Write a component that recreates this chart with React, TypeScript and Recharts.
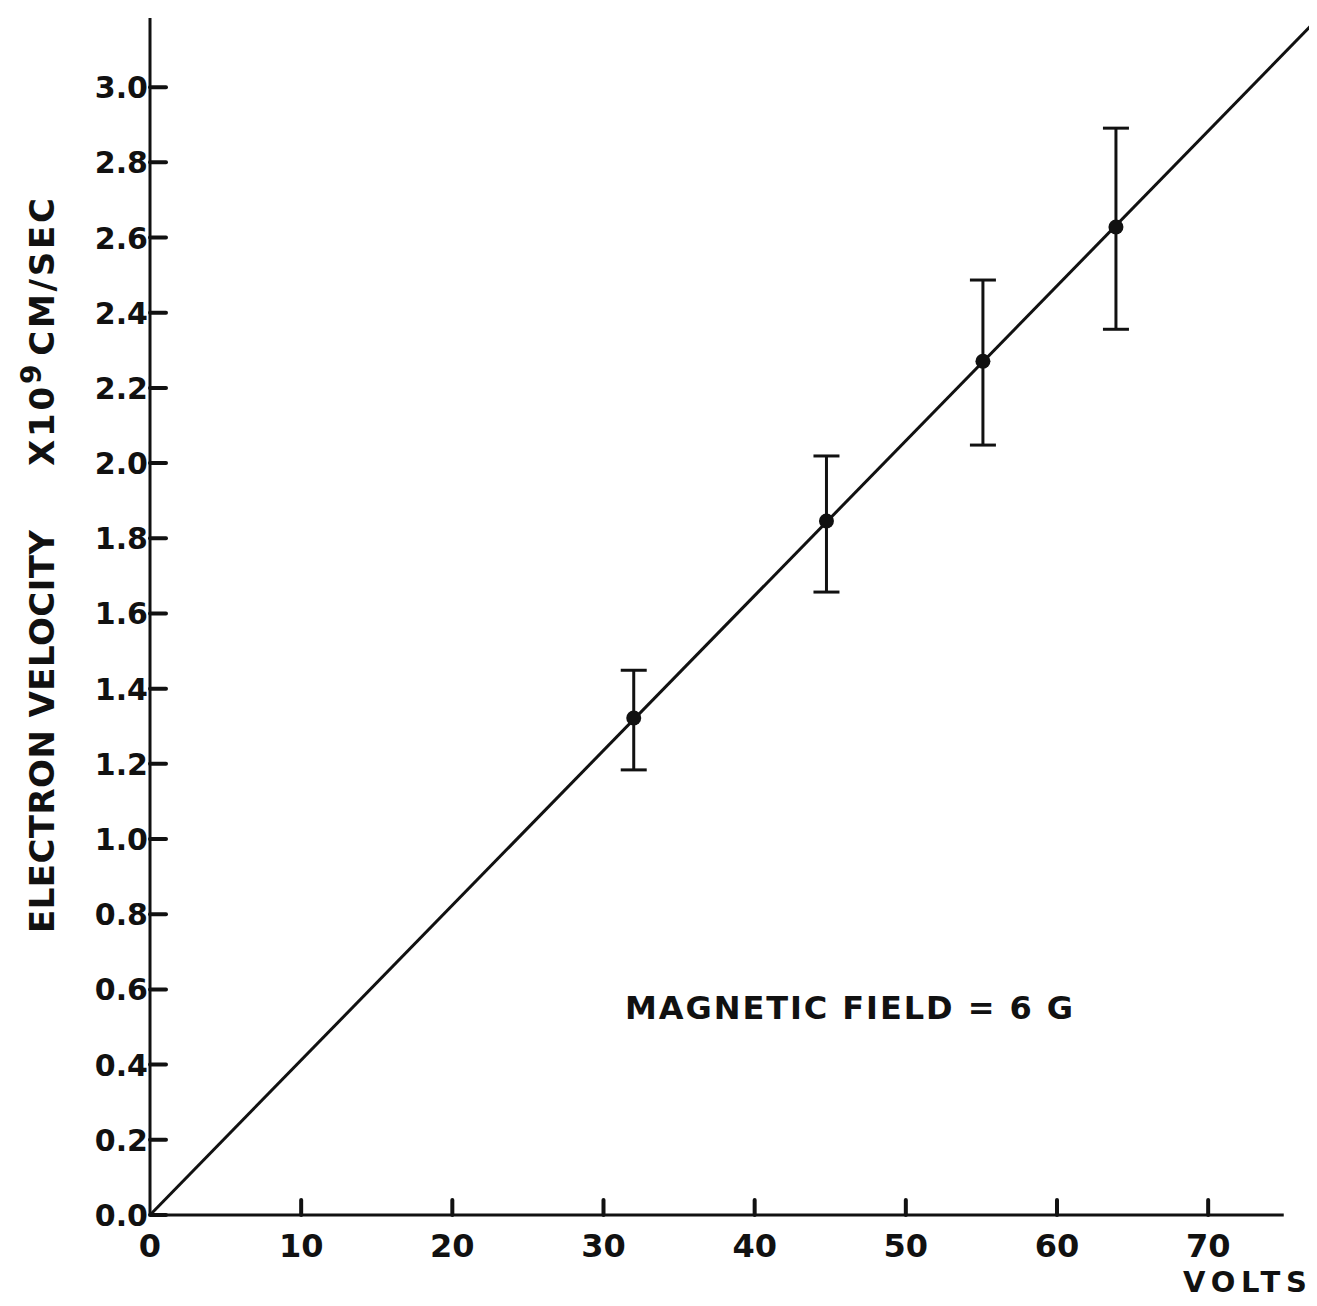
import { ComposedChart, XAxis, YAxis, Scatter, ErrorBar, ReferenceLine } from "recharts";

// volts axis ticks and velocity (x10^9 cm/sec) axis ticks
const voltTicks = [0, 10, 20, 30, 40, 50, 60, 70];
const velocityTicks = [0, 0.2, 0.4, 0.6, 0.8, 1.0, 1.2, 1.4, 1.6, 1.8, 2.0, 2.2, 2.4, 2.6, 2.8, 3.0];

// measured points
const volts = [32.0, 44.75, 55.1, 63.9];
const velocity = [1.322, 1.846, 2.271, 2.628];
const errLow = [0.138, 0.189, 0.223, 0.272];
const errHigh = [0.127, 0.173, 0.216, 0.263];

// straight-line fit through origin, runs off the top right corner
const fitVolts = [0, 77.2];
const fitVelocity = [0, 3.18];

const points = volts.map((x, i) => ({ x, y: velocity[i], err: [errLow[i], errHigh[i]] }));

const FONT = "'DejaVu Sans', sans-serif";
const INK = "#111";

const XTick = (props: any) => {
  const { x, y, payload } = props;
  return (
    <g>
      {payload.value !== 0 && (
        <line x1={x} x2={x} y1={y} y2={y - 15} stroke={INK} strokeWidth={4} strokeLinecap="round" />
      )}
      <text x={x} y={y + 42} textAnchor="middle" fontSize={32} fontWeight="bold" fontFamily={FONT} fill={INK}>
        {payload.value}
      </text>
    </g>
  );
};

const YTick = (props: any) => {
  const { x, y, payload } = props;
  return (
    <g>
      <line x1={x} x2={x + 16} y1={y} y2={y} stroke={INK} strokeWidth={4} strokeLinecap="round" />
      <text x={x - 2} y={y + 11} textAnchor="end" fontSize={30} fontWeight="bold" fontFamily={FONT} fill={INK}>
        {Number(payload.value).toFixed(1)}
      </text>
    </g>
  );
};

const Dot = (props: any) => <circle cx={props.cx} cy={props.cy} r={7.5} fill={INK} />;

export default function App() {
  return (
    <div style={{ margin: -8, width: 1317, height: 1306, background: "#fff" }}>
      <ComposedChart width={1317} height={1306} margin={{ top: 18, right: 0, bottom: 31, left: 90 }}>
        <XAxis
          type="number"
          dataKey="x"
          domain={[0, 77.2]}
          ticks={voltTicks}
          interval={0}
          axisLine={false}
          tickLine={false}
          tickSize={0}
          tickMargin={0}
          height={60}
          tick={<XTick />}
          allowDataOverflow
        />
        <YAxis
          type="number"
          dataKey="y"
          domain={[0, 3.184]}
          ticks={velocityTicks}
          interval={0}
          axisLine={{ stroke: INK, strokeWidth: 3 }}
          tickLine={false}
          tickSize={0}
          tickMargin={0}
          width={60}
          tick={<YTick />}
          allowDataOverflow
        />
        <ReferenceLine segment={[{ x: 0, y: 0 }, { x: 75, y: 0 }]} stroke={INK} strokeWidth={3} />
        <ReferenceLine
          segment={[{ x: fitVolts[0], y: fitVelocity[0] }, { x: fitVolts[1], y: fitVelocity[1] }]}
          stroke={INK}
          strokeWidth={3}
        />
        <Scatter data={points} dataKey="y" shape={<Dot />} isAnimationActive={false}>
          <ErrorBar dataKey="err" direction="y" width={13} stroke={INK} strokeWidth={3} isAnimationActive={false} />
        </Scatter>
        <text
          x={54}
          y={933}
          transform="rotate(-90, 54, 933)"
          fontSize={34}
          fontWeight="bold"
          fontFamily={FONT}
          fill={INK}
          textLength={403}
          lengthAdjust="spacing"
        >
          ELECTRON VELOCITY
        </text>
        <text
          x={54}
          y={466}
          transform="rotate(-90, 54, 466)"
          fontSize={34}
          fontWeight="bold"
          fontFamily={FONT}
          fill={INK}
          textLength={268}
          lengthAdjust="spacing"
        >
          <tspan>X10</tspan>
          <tspan dy={-13} fontSize={28}>9</tspan>
          <tspan dy={13} dx={6}>CM/SEC</tspan>
        </text>
        <text x={625} y={1019} fontSize={32} fontWeight="bold" fontFamily={FONT} fill={INK} textLength={448} lengthAdjust="spacing">
          MAGNETIC FIELD = 6 G
        </text>
        <text x={1183} y={1292} fontSize={29} fontWeight="bold" fontFamily={FONT} fill={INK} textLength={124} lengthAdjust="spacing">
          VOLTS
        </text>
      </ComposedChart>
    </div>
  );
}
